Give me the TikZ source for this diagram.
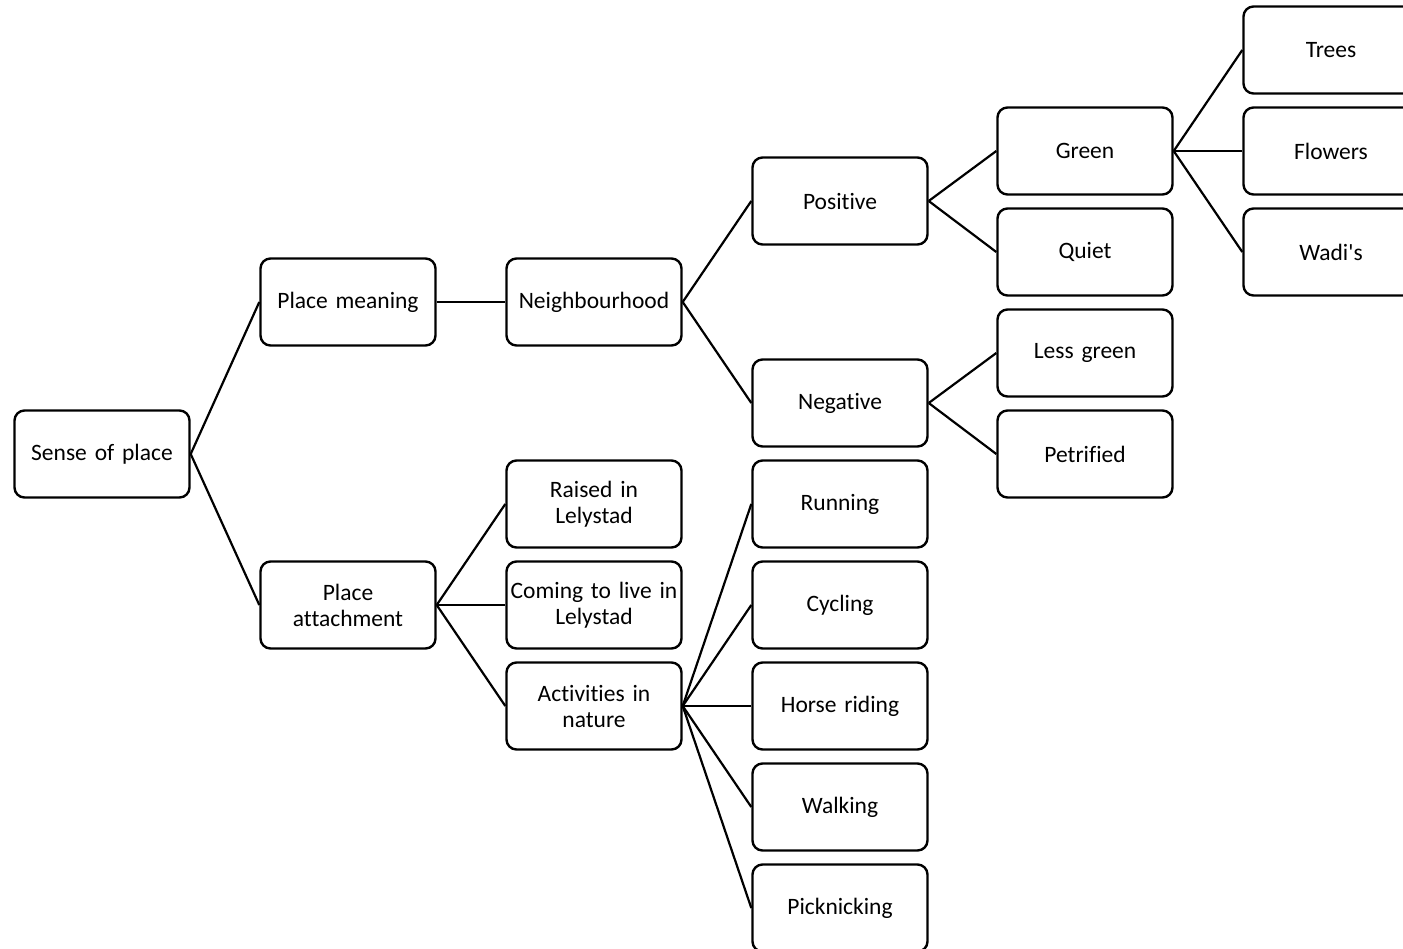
\documentclass[tikz,border=0pt]{standalone}
\usepackage{fontspec}
\setmainfont{Carlito}[Ligatures={NoCommon}]
\begin{document}
\begin{tikzpicture}[x=1pt,y=-1pt,
  box/.style={draw=black, line width=2.4pt, rounded corners=10pt, fill=white,
    minimum width=175pt, minimum height=87pt, inner sep=0pt,
    text width=170pt, align=center,
    font=\fontsize{23.5}{26}\selectfont},
  link/.style={draw=black, line width=2.2pt}]
\clip (0,0) rectangle (1403,948);
\fill[white] (0,0) rectangle (1403,948);

% level 0
\node[box] (sop) at (102,454) {Sense of place};
% level 1
\node[box] (pm) at (348,302) {Place meaning};
\node[box] (pa) at (348,605) {Place\\attachment};
% level 2
\node[box] (nb) at (594,302) {Neighbourhood};
\node[box] (ri) at (594,504) {Raised in\\Lelystad};
\node[box] (cl) at (594,605) {Coming to live in\\Lelystad};
\node[box] (an) at (594,706) {Activities in\\nature};
% level 3
\node[box] (pos) at (840,201) {Positive};
\node[box] (neg) at (840,403) {Negative};
\node[box] (run) at (840,504) {Running};
\node[box] (cyc) at (840,605) {Cycling};
\node[box] (hr)  at (840,706) {Horse riding};
\node[box] (wlk) at (840,807) {Walking};
\node[box] (pic) at (840,908) {Picknicking};
% level 4
\node[box] (grn) at (1085,151) {Green};
\node[box] (qt)  at (1085,252) {Quiet};
\node[box] (lg)  at (1085,353) {Less green};
\node[box] (pet) at (1085,454) {Petrified};
% level 5
\node[box] (tr) at (1331,50) {Trees};
\node[box] (fl) at (1331,151) {Flowers};
\node[box] (wd) at (1331,252) {Wadi\textquotesingle s};

% connectors
\foreach \a/\b in {sop/pm, sop/pa, pm/nb, pa/ri, pa/cl, pa/an,
  nb/pos, nb/neg, an/run, an/cyc, an/hr, an/wlk, an/pic,
  pos/grn, pos/qt, neg/lg, neg/pet, grn/tr, grn/fl, grn/wd}
  \draw[link] (\a.east) -- (\b.west);
\end{tikzpicture}
\end{document}
